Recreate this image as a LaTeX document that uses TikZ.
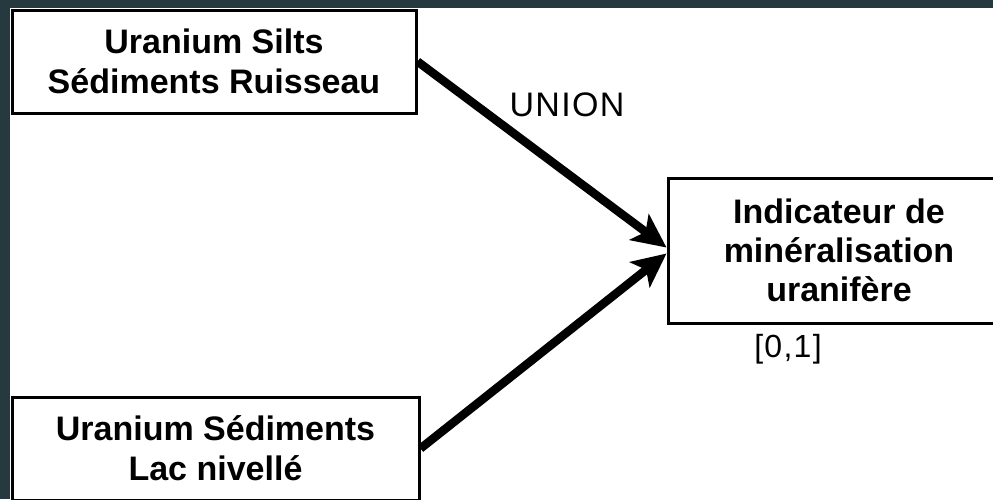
\documentclass[tikz,border=0pt]{standalone}
\usepackage{fontspec}
\setmainfont{Liberation Sans}
\usetikzlibrary{arrows.meta}
\definecolor{slate}{HTML}{26393F}
\tikzset{
  boxnode/.style={draw=black, line width=3pt, fill=white, inner sep=0pt, align=center,
    font=\fontsize{34}{40}\selectfont\bfseries},
  bigarrow/.style={line width=8.5pt, -{Stealth[length=34pt,width=32pt,inset=8pt]}},
  plainlabel/.style={inner sep=0pt, font=\fontsize{34}{40}\selectfont\addfontfeature{LetterSpace=4}}
}
\begin{document}
\begin{tikzpicture}[x=1pt,y=-1pt]
\useasboundingbox (0,0) rectangle (993,499);
\clip (0,0) rectangle (993,499);
\fill[slate] (0,0) rectangle (993,499);
\fill[white] (10,8) rectangle (993,499);
\node[boxnode, minimum width=404pt, minimum height=103pt] (b1) at (214,61.5) {Uranium Silts\\Sédiments Ruisseau};
\node[boxnode, minimum width=407pt, minimum height=103pt] (b2) at (215.5,448.5) {Uranium Sédiments\\Lac nivellé};
\node[boxnode, minimum width=342pt, minimum height=145pt, font=\fontsize{34}{39}\selectfont\bfseries] (b3) at (839,250.5) {Indicateur de\\minéralisation\\uranifère};
\draw[bigarrow] (b1.east) -- ([yshift=3pt]b3.west);
\draw[bigarrow] (b2.east) -- ([yshift=-3pt]b3.west);
\node[plainlabel] (union) at (567,105) {UNION};
\node[plainlabel, font=\fontsize{32}{38}\selectfont\addfontfeature{LetterSpace=4}] (range) at (788,349) {[0,1]};
\end{tikzpicture}
\end{document}
